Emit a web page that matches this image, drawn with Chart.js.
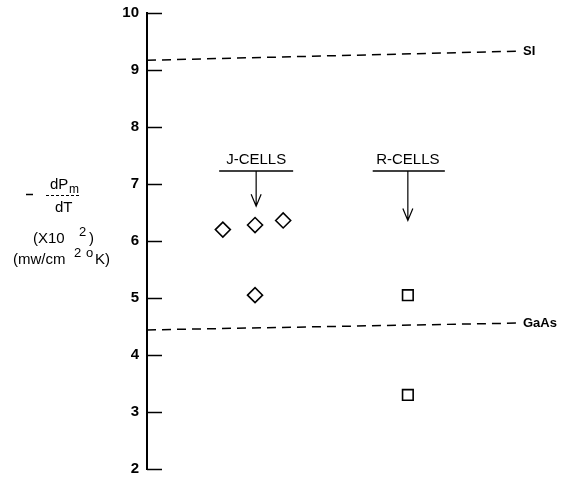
<!DOCTYPE html>
<html>
<head>
<meta charset="utf-8">
<script src="https://cdn.jsdelivr.net/npm/chart.js@4.4.0/dist/chart.umd.min.js"></script>
<style>
  body { margin: 0; background: #fff; }
  #wrap { width: 567px; height: 479px; }
</style>
</head>
<body>
<div id="wrap"><canvas id="dpdtChart"></canvas></div>
<script>
// values (x is a free position 0..100 across the plot)
const jCellX = [20.5, 29.2, 36.8, 29.2];
const jCellY = [6.20, 6.28, 6.36, 5.05];
const rCellX = [70.5, 70.5];
const rCellY = [5.05, 3.30];
const refLineX = [0, 100];
const siLineY = [9.17, 9.33];
const gaasLineY = [4.44, 4.56];
const yTickValues = [2, 3, 4, 5, 6, 7, 8, 9, 10];

// group labels with underline and arrow: [label, x, underline from, to, arrow tip y]
const groupLabels = [
    ['J-CELLS', 29.5, 19.5, 39.5, 6.61],
    ['R-CELLS', 70.5, 61, 80.5, 6.36]
];
const lineLabels = [['SI', siLineY[1]], ['GaAs', gaasLineY[1]]];

const textFont = '"Liberation Sans", Arial, sans-serif';

const notesPlugin = {
    id: 'notes',
    afterDatasetsDraw(chart) {
        const ctx = chart.ctx;
        const xs = chart.scales.x, ys = chart.scales.y;
        ctx.save();
        ctx.strokeStyle = '#000';
        ctx.fillStyle = '#000';

        // short tick marks inside the plot, to the right of the axis
        ctx.lineWidth = 1.5;
        yTickValues.forEach(v => {
            const py = Math.round(ys.getPixelForValue(v)) + 0.5;
            ctx.beginPath();
            ctx.moveTo(xs.left, py);
            ctx.lineTo(xs.left + 15, py);
            ctx.stroke();
        });

        // group labels
        ctx.font = '15px ' + textFont;
        ctx.textAlign = 'center';
        ctx.textBaseline = 'alphabetic';
        const underY = 7.23;
        groupLabels.forEach(([txt, x, u0, u1, tip]) => {
            const px = xs.getPixelForValue(x);
            const uy = ys.getPixelForValue(underY);
            ctx.fillText(txt, px, uy - 7);
            ctx.lineWidth = 1.5;
            ctx.beginPath();
            ctx.moveTo(xs.getPixelForValue(u0), uy);
            ctx.lineTo(xs.getPixelForValue(u1), uy);
            ctx.stroke();
            const ty = ys.getPixelForValue(tip);
            ctx.lineWidth = 1.2;
            ctx.beginPath();
            ctx.moveTo(px, uy);
            ctx.lineTo(px, ty);
            ctx.moveTo(px - 5, ty - 12);
            ctx.lineTo(px, ty);
            ctx.lineTo(px + 5, ty - 12);
            ctx.stroke();
        });

        // line end labels
        ctx.font = 'bold 13px ' + textFont;
        ctx.textAlign = 'left';
        ctx.textBaseline = 'middle';
        lineLabels.forEach(([txt, v]) => {
            ctx.fillText(txt, xs.right + 6, ys.getPixelForValue(v));
        });

        // y-axis title
        ctx.font = '15px ' + textFont;
        ctx.textAlign = 'left';
        ctx.textBaseline = 'alphabetic';
        ctx.lineWidth = 1.5;
        ctx.beginPath();
        ctx.moveTo(26, 194.5);
        ctx.lineTo(33, 194.5);
        ctx.stroke();
        ctx.fillText('dP', 50, 189);
        ctx.font = '12px ' + textFont;
        ctx.fillText('m', 69, 193);
        ctx.lineWidth = 1;
        ctx.setLineDash([3, 2]);
        ctx.beginPath();
        ctx.moveTo(46, 195.5);
        ctx.lineTo(80, 195.5);
        ctx.stroke();
        ctx.setLineDash([]);
        ctx.font = '15px ' + textFont;
        ctx.fillText('dT', 55, 212);
        ctx.fillText('(X10', 33, 243);
        ctx.font = '13px ' + textFont;
        ctx.fillText('2', 79, 236);
        ctx.font = '15px ' + textFont;
        ctx.fillText(')', 89, 243);
        ctx.fillText('(mw/cm', 13, 264);
        ctx.font = '13px ' + textFont;
        ctx.fillText('2', 74, 257);
        ctx.fillText('o', 86, 257);
        ctx.font = '15px ' + textFont;
        ctx.fillText('K)', 95, 264);
        ctx.restore();
    }
};

const ctx = document.getElementById('dpdtChart').getContext('2d');
new Chart(ctx, {
    type: 'scatter',
    data: {
        datasets: [
            {
                label: 'SI',
                data: refLineX.map((x, i) => ({ x: x, y: siLineY[i] })),
                showLine: true,
                borderColor: '#000',
                borderWidth: 1.5,
                borderDash: [9, 6],
                pointRadius: 0
            },
            {
                label: 'GaAs',
                data: refLineX.map((x, i) => ({ x: x, y: gaasLineY[i] })),
                showLine: true,
                borderColor: '#000',
                borderWidth: 1.5,
                borderDash: [9, 6],
                pointRadius: 0
            },
            {
                label: 'J-cells',
                data: jCellX.map((x, i) => ({ x: x, y: jCellY[i] })),
                pointStyle: 'rectRot',
                pointRadius: 7.5,
                pointBorderWidth: 1.6,
                borderColor: '#000',
                backgroundColor: '#fff'
            },
            {
                label: 'R-cells',
                data: rCellX.map((x, i) => ({ x: x, y: rCellY[i] })),
                pointStyle: 'rect',
                pointRadius: 7.5,
                pointBorderWidth: 1.6,
                borderColor: '#000',
                backgroundColor: '#fff'
            }
        ]
    },
    options: {
        responsive: true,
        maintainAspectRatio: false,
        animation: false,
        layout: { padding: { left: 0, right: 50, top: 13, bottom: 10 } },
        plugins: {
            legend: { display: false },
            tooltip: { enabled: false }
        },
        scales: {
            x: { type: 'linear', min: 0, max: 100, display: false },
            y: {
                type: 'linear',
                min: 2,
                max: 10,
                afterFit: scale => {
                    scale.width = 147;
                    scale.paddingTop = 0;
                    scale.paddingBottom = 0;
                },
                afterBuildTicks: scale => {
                    scale.ticks = yTickValues.map(v => ({ value: v }));
                },
                grid: { display: false, drawTicks: false },
                border: { display: true, color: '#000', width: 2 },
                ticks: {
                    color: '#000',
                    padding: 8,
                    font: { family: textFont, size: 15, weight: 'bold' }
                }
            }
        }
    },
    plugins: [notesPlugin]
});
</script>
</body>
</html>
